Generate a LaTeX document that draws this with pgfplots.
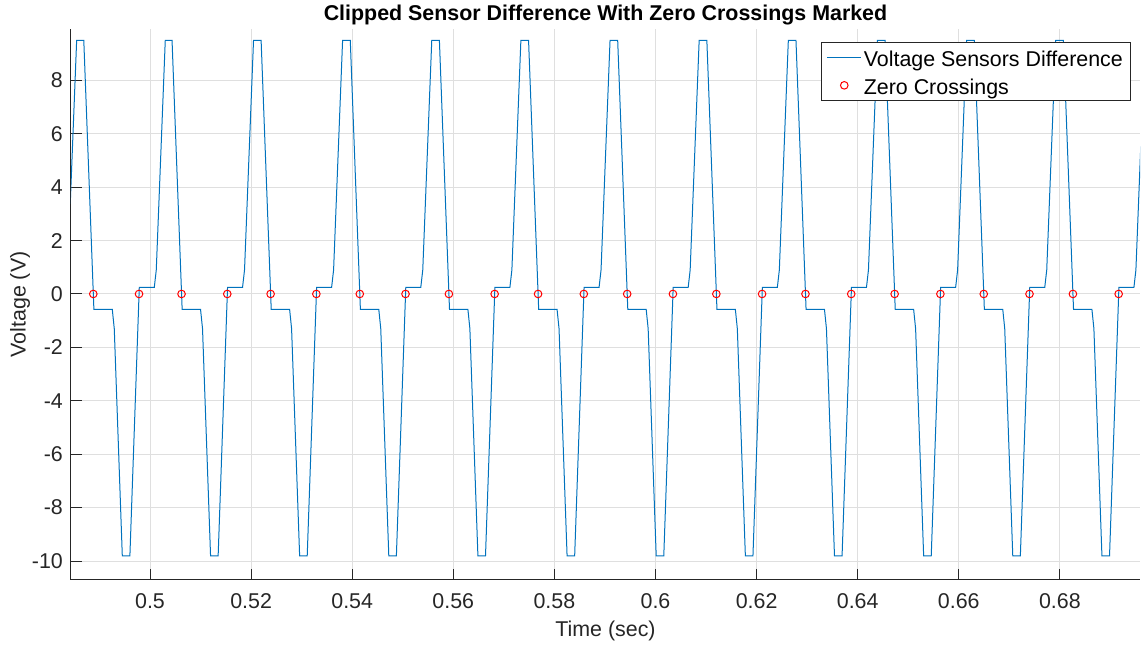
\documentclass[border=0pt]{standalone}
\usepackage{pgfplots}
\pgfplotsset{compat=1.18}
\usepackage{pgfplotstable}
\usepackage{fontspec}
\setmainfont{Liberation Sans}
\newcommand\fs{\fontsize{10.7pt}{12.8pt}\selectfont}
\definecolor{mblue}{RGB}{0,114,189}
\definecolor{axiscol}{RGB}{38,38,38}
\definecolor{gridcol}{RGB}{223,223,223}
\pgfplotstableread{
t v
0.48332 0.25
0.48371 0.9
0.48549 9.5
0.48690 9.5
0.48890 -0.58
0.49254 -0.58
0.49293 -1.3
0.49452 -9.81
0.49602 -9.81
0.49788 0.25
0.50085 0.25
0.50124 0.9
0.50302 9.5
0.50436 9.5
0.50636 -0.58
0.51000 -0.58
0.51039 -1.3
0.51198 -9.81
0.51348 -9.81
0.51534 0.25
0.51831 0.25
0.51870 0.9
0.52048 9.5
0.52198 9.5
0.52398 -0.58
0.52762 -0.58
0.52801 -1.3
0.52960 -9.81
0.53110 -9.81
0.53296 0.25
0.53593 0.25
0.53632 0.9
0.53810 9.5
0.53962 9.5
0.54162 -0.58
0.54526 -0.58
0.54565 -1.3
0.54724 -9.81
0.54874 -9.81
0.55060 0.25
0.55357 0.25
0.55396 0.9
0.55574 9.5
0.55725 9.5
0.55925 -0.58
0.56289 -0.58
0.56328 -1.3
0.56487 -9.81
0.56637 -9.81
0.56823 0.25
0.57120 0.25
0.57159 0.9
0.57337 9.5
0.57489 9.5
0.57689 -0.58
0.58053 -0.58
0.58092 -1.3
0.58251 -9.81
0.58401 -9.81
0.58587 0.25
0.58884 0.25
0.58923 0.9
0.59101 9.5
0.59252 9.5
0.59452 -0.58
0.59816 -0.58
0.59855 -1.3
0.60014 -9.81
0.60164 -9.81
0.60350 0.25
0.60647 0.25
0.60686 0.9
0.60864 9.5
0.61016 9.5
0.61216 -0.58
0.61580 -0.58
0.61619 -1.3
0.61778 -9.81
0.61928 -9.81
0.62114 0.25
0.62411 0.25
0.62450 0.9
0.62628 9.5
0.62779 9.5
0.62979 -0.58
0.63343 -0.58
0.63382 -1.3
0.63541 -9.81
0.63691 -9.81
0.63877 0.25
0.64174 0.25
0.64213 0.9
0.64391 9.5
0.64543 9.5
0.64743 -0.58
0.65107 -0.58
0.65146 -1.3
0.65305 -9.81
0.65455 -9.81
0.65641 0.25
0.65938 0.25
0.65977 0.9
0.66155 9.5
0.66306 9.5
0.66506 -0.58
0.66870 -0.58
0.66909 -1.3
0.67068 -9.81
0.67218 -9.81
0.67404 0.25
0.67701 0.25
0.67740 0.9
0.67918 9.5
0.68070 9.5
0.68270 -0.58
0.68634 -0.58
0.68673 -1.3
0.68832 -9.81
0.68982 -9.81
0.69168 0.25
0.69465 0.25
0.69504 0.9
0.69682 9.5
}\linedata
\pgfplotstableread{
t v
0.48878 0
0.49783 0
0.50624 0
0.51529 0
0.52386 0
0.53291 0
0.54150 0
0.55055 0
0.55913 0
0.56818 0
0.57677 0
0.58582 0
0.59440 0
0.60345 0
0.61204 0
0.62109 0
0.62967 0
0.63872 0
0.64731 0
0.65636 0
0.66494 0
0.67399 0
0.68258 0
0.69163 0
}\zcdata
\begin{document}
\begin{tikzpicture}
\begin{axis}[
  name=ax,
  scale only axis,
  width=534.5pt, height=275.2pt,
  xmin=0.48437, xmax=0.69585,
  ymin=-10.70, ymax=9.91,
  axis x line*=bottom, axis y line*=left,
  axis line style={draw=axiscol, line width=0.5pt, -},
  xtick={0.5,0.52,0.54,0.56,0.58,0.6,0.62,0.64,0.66,0.68},
  xticklabels={0.5,0.52,0.54,0.56,0.58,0.6,0.62,0.64,0.66,0.68},
  ytick={-10,-8,-6,-4,-2,0,2,4,6,8},
  yticklabels={-10,-8,-6,-4,-2,0,2,4,6,8},
  tick align=inside, major tick length=5.5pt,
  tick style={draw=axiscol, line width=0.5pt},
  grid=major, major grid style={draw=gridcol, line width=0.5pt},
  tick label style={font=\fs, text=axiscol},
  xticklabel style={anchor=base, yshift=-14.3pt, inner sep=0pt},
  yticklabel style={anchor=east, xshift=-3.85pt, inner sep=0pt},
  xlabel={Time (sec)}, ylabel={Voltage (V)},
  xlabel style={at={(axis description cs:0.5,0)}, anchor=base, yshift=-28.15pt, font=\fs, text=axiscol},
  ylabel style={at={(axis description cs:-0.04247,0.5)}, anchor=base, font=\fs, text=axiscol},
  title={Clipped Sensor Difference With Zero Crossings Marked},
  title style={at={(axis description cs:0.5,1)}, anchor=base, yshift=-1.35pt, font=\fs\bfseries, inner sep=0pt},
  legend style={at={(axis description cs:1,1)}, anchor=north east, xshift=-4.5pt, yshift=-6.2pt,
    draw=axiscol, line width=0.5pt, fill=white, font=\fs,
    inner xsep=2.85pt, inner ysep=1.96pt, row sep=2.2pt,
    nodes={inner xsep=1pt, inner ysep=0pt, text height=10.2pt, text depth=1.4pt}},
  legend cell align=left,
]
\addplot[color=mblue, line width=0.5pt, no marks] table[x=t, y=v] {\linedata};
\addlegendentry{Voltage Sensors Difference}
\addplot[only marks, mark=o, mark size=1.9pt, color=red, mark options={line width=0.5pt}] table[x=t, y=v] {\zcdata};
\addlegendentry{Zero Crossings}
\end{axis}
\pgfresetboundingbox
\path ([xshift=-35.5pt, yshift=-32.15pt]ax.south west) rectangle ([xshift=0.5pt, yshift=14.65pt]ax.north east);
\end{tikzpicture}
\end{document}
